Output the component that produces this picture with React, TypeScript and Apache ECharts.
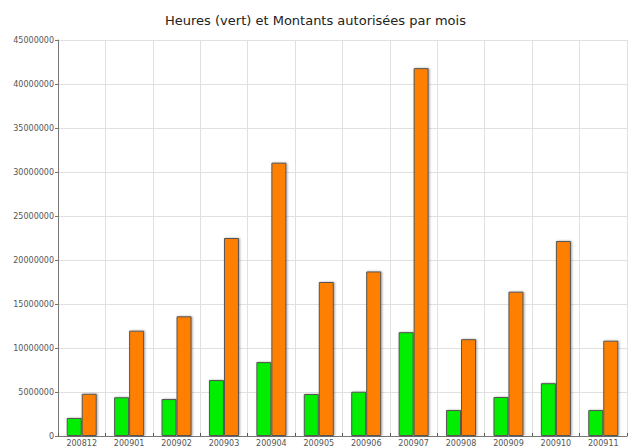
import React, { useEffect, useRef } from "react";
import * as echarts from "echarts";

const categories = ["200812", "200901", "200902", "200903", "200904", "200905", "200906", "200907", "200908", "200909", "200910", "200911"];
const heures = [2050000, 4400000, 4200000, 6360000, 8400000, 4770000, 5030000, 11800000, 2950000, 4430000, 6000000, 2950000];
const montants = [4800000, 11970000, 13600000, 22500000, 31060000, 17500000, 18700000, 41800000, 11000000, 16400000, 22160000, 10830000];
const title = "Heures (vert) et Montants autorisées par mois";

export default function App() {
  const ref = useRef<HTMLDivElement>(null);
  useEffect(() => {
    const chart = echarts.init(ref.current!, undefined, { renderer: "svg" });
    const barStyle = (color: string) => ({
      color,
      borderColor: "#555",
      borderWidth: 1,
      shadowColor: "rgba(0,0,0,0.35)",
      shadowBlur: 2,
      shadowOffsetX: 1,
      shadowOffsetY: 0,
    });
    chart.setOption({
      animation: false,
      backgroundColor: "#fff",
      title: {
        text: title,
        left: "center",
        top: 9,
        textStyle: { fontFamily: "DejaVu Sans", fontSize: 13, fontWeight: "normal", color: "#222" },
      },
      grid: { left: 58, right: 4, top: 40, bottom: 12, containLabel: false },
      xAxis: {
        type: "category",
        data: categories,
        boundaryGap: true,
        axisLine: { lineStyle: { color: "#777", width: 1 } },
        axisTick: { show: true, inside: true, length: 3, lineStyle: { color: "#555" } },
        axisLabel: { fontFamily: "DejaVu Sans", fontSize: 8, color: "#555", margin: 3 },
        splitLine: { show: true, lineStyle: { color: "#e0e0e0", width: 1 } },
      },
      yAxis: {
        type: "value",
        min: 0,
        max: 45000000,
        interval: 5000000,
        axisLine: { show: true, lineStyle: { color: "#777", width: 1 } },
        axisTick: { show: true, length: 3, lineStyle: { color: "#777" } },
        axisLabel: { fontFamily: "DejaVu Sans", fontSize: 8, color: "#555", margin: 4, formatter: (v: number) => String(v) },
        splitLine: { show: true, lineStyle: { color: "#e0e0e0", width: 1 } },
      },
      series: [
        { type: "bar", data: heures, barWidth: 15, barGap: "0%", itemStyle: barStyle("#00ee00") },
        { type: "bar", data: montants, barWidth: 15, barGap: "0%", itemStyle: barStyle("#ff8000") },
      ],
    });
    return () => chart.dispose();
  }, []);
  return <div ref={ref} style={{ width: 631, height: 448, position: "absolute", left: 0, top: 0 }} />;
}
